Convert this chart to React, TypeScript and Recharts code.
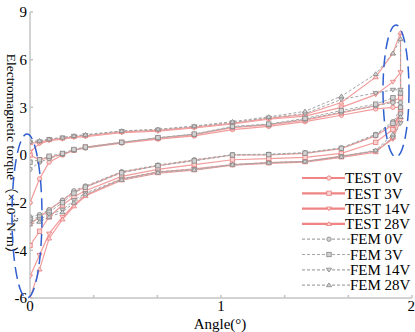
import React from "react";
import { LineChart, Line, XAxis, YAxis, Legend } from "recharts";

// sample angles (deg), shared by every branch
const ANGLES = [0, 0.05, 0.1, 0.17, 0.23, 0.29, 0.48, 0.67, 0.86, 1.06, 1.25, 1.44, 1.63, 1.81, 1.9, 1.94];

// torque (x10^-3 N·m), rising branch then falling branch
const TEST_0V_UP = [-2.0, -1.0, -0.3, 0.0, 0.3, 0.45, 0.75, 1.0, 1.2, 1.6, 1.8, 2.1, 2.5, 2.9, 3.0, 3.0];
const TEST_0V_DOWN = [-2.9, -2.6, -2.3, -1.9, -1.55, -1.35, -0.72, -0.45, -0.22, 0.0, 0.0, 0.1, 0.4, 1.2, 1.9, 2.6];
const TEST_3V_UP = [0.0, -0.2, -0.1, 0.05, 0.3, 0.5, 0.8, 1.05, 1.28, 1.72, 1.9, 2.2, 2.65, 3.1, 3.4, 3.6];
const TEST_3V_DOWN = [-3.8, -3.2, -2.6, -2.1, -1.75, -1.5, -0.9, -0.6, -0.4, -0.2, -0.15, -0.1, 0.1, 0.8, 1.6, 2.8];
const TEST_14V_UP = [0.2, 0.7, 0.9, 1.0, 1.1, 1.15, 1.4, 1.5, 1.7, 1.95, 2.25, 2.45, 3.0, 3.8, 4.6, 5.2];
const TEST_14V_DOWN = [-5.1, -4.2, -3.3, -2.6, -2.1, -1.7, -1.0, -0.72, -0.58, -0.4, -0.32, -0.27, -0.05, 0.25, 1.0, 2.2];
const TEST_28V_UP = [0.75, 0.8, 0.95, 1.05, 1.15, 1.2, 1.45, 1.55, 1.75, 2.0, 2.3, 2.55, 3.3, 4.9, 6.4, 7.7];
const TEST_28V_DOWN = [-6.0, -4.8, -3.5, -2.7, -2.15, -1.72, -1.06, -0.76, -0.64, -0.43, -0.35, -0.3, -0.1, 0.18, 1.1, 2.8];

const FEM_0V_UP = [-0.6, -0.3, -0.15, 0.05, 0.3, 0.45, 0.78, 1.08, 1.3, 1.76, 1.92, 2.25, 2.7, 3.1, 3.3, 3.3];
const FEM_0V_DOWN = [-2.6, -2.5, -2.3, -1.9, -1.5, -1.3, -0.7, -0.42, -0.2, 0.02, 0.05, 0.15, 0.45, 1.3, 2.1, 2.6];
const FEM_3V_UP = [-0.3, -0.2, -0.05, 0.1, 0.35, 0.5, 0.8, 1.1, 1.32, 1.8, 1.95, 2.3, 2.8, 3.2, 3.6, 3.9];
const FEM_3V_DOWN = [-2.7, -2.6, -2.4, -2.0, -1.6, -1.35, -0.75, -0.45, -0.25, 0.0, 0.02, 0.12, 0.42, 1.25, 2.0, 3.0];
const FEM_14V_UP = [0.8, 0.85, 1.0, 1.1, 1.2, 1.25, 1.5, 1.6, 1.8, 2.05, 2.35, 2.6, 3.5, 3.9, 4.1, 4.1];
const FEM_14V_DOWN = [-2.8, -2.7, -2.5, -2.3, -1.9, -1.6, -1.0, -0.7, -0.6, -0.42, -0.33, -0.28, -0.06, 0.25, 1.1, 2.0];
const FEM_28V_UP = [0.85, 0.9, 1.0, 1.1, 1.2, 1.28, 1.52, 1.62, 1.82, 2.1, 2.4, 2.75, 3.7, 5.1, 6.4, 7.3];
const FEM_28V_DOWN = [-2.9, -2.8, -2.6, -2.4, -2.0, -1.65, -1.04, -0.74, -0.62, -0.4, -0.32, -0.27, -0.07, 0.3, 1.3, 2.4];

const X_TICKS = [0, 1 / 3, 2 / 3, 1, 4 / 3, 5 / 3, 2];
const Y_TICKS = [-6, -4, -2, 0, 3, 6, 9];

// the original axis is split: 3 units per division above zero, 2 below
const toAxis = (v: number) => (v >= 0 ? v / 3 : v / 2);
const fromAxis = (t: number) => (t >= 0 ? t * 3 : t * 2);

const buildLoop = (up: number[], down: number[]) => [
  ...ANGLES.map((a, i) => ({ angle: a, torque: up[i] })),
  ...ANGLES.map((a, i) => ({ angle: a, torque: down[i] })).reverse(),
];

type Shape = "circle" | "square" | "down" | "up";

const SERIES: { name: string; test: boolean; shape: Shape; data: { angle: number; torque: number }[] }[] = [
  { name: "TEST 0V", test: true, shape: "circle", data: buildLoop(TEST_0V_UP, TEST_0V_DOWN) },
  { name: "TEST 3V", test: true, shape: "square", data: buildLoop(TEST_3V_UP, TEST_3V_DOWN) },
  { name: "TEST 14V", test: true, shape: "down", data: buildLoop(TEST_14V_UP, TEST_14V_DOWN) },
  { name: "TEST 28V", test: true, shape: "up", data: buildLoop(TEST_28V_UP, TEST_28V_DOWN) },
  { name: "FEM 0V", test: false, shape: "circle", data: buildLoop(FEM_0V_UP, FEM_0V_DOWN) },
  { name: "FEM 3V", test: false, shape: "square", data: buildLoop(FEM_3V_UP, FEM_3V_DOWN) },
  { name: "FEM 14V", test: false, shape: "down", data: buildLoop(FEM_14V_UP, FEM_14V_DOWN) },
  { name: "FEM 28V", test: false, shape: "up", data: buildLoop(FEM_28V_UP, FEM_28V_DOWN) },
];

const SERIF = '"Liberation Serif", "Times New Roman", "Noto Sans CJK SC", serif';
const TEST_LINE = "#f29c9c";
const FEM_LINE = "#a6a6a6";

function Marker({ cx, cy, shape, test }: { cx: number; cy: number; shape: Shape; test: boolean }) {
  const stroke = test ? "#e77c7c" : "#858585";
  const fill = test ? "#fbd3d3" : "#d2d2d2";
  const r = 2.2;
  if (shape === "circle") return <circle cx={cx} cy={cy} r={r} stroke={stroke} fill={fill} strokeWidth={0.8} />;
  if (shape === "square")
    return <rect x={cx - r} y={cy - r} width={2 * r} height={2 * r} stroke={stroke} fill={fill} strokeWidth={0.8} />;
  const pts =
    shape === "down"
      ? `${cx - r - 0.4},${cy - r + 0.6} ${cx + r + 0.4},${cy - r + 0.6} ${cx},${cy + r}`
      : `${cx - r - 0.4},${cy + r - 0.6} ${cx + r + 0.4},${cy + r - 0.6} ${cx},${cy - r}`;
  return <polygon points={pts} stroke={stroke} fill={fill} strokeWidth={0.8} />;
}

function LegendBox() {
  return (
    <svg width={115} height={125}>
      {SERIES.map((s, i) => {
        const y = 8 + i * 15.3;
        const end = s.test ? 45 : 50;
        return (
          <g key={s.name}>
            <line
              x1={2}
              x2={end}
              y1={y}
              y2={y}
              stroke={s.test ? "#f08484" : FEM_LINE}
              strokeWidth={s.test ? 2.2 : 1.2}
              strokeDasharray={s.test ? undefined : "3 2"}
            />
            <Marker cx={29} cy={y} shape={s.shape} test={s.test} />
            <text x={end} y={y} dy="0.35em" fontFamily={SERIF} fontSize={15} fill="#000">
              {s.name}
            </text>
          </g>
        );
      })}
    </svg>
  );
}

function YLabel() {
  return (
    <text
      x={12}
      y={157}
      transform="rotate(90 12 157)"
      textAnchor="middle"
      dy="0.35em"
      fontFamily={SERIF}
      fontSize={13.5}
      fill="#000"
    >
      Electromagnetic torque（×10
      <tspan dy={-5} fontSize={9}>
        -3
      </tspan>
      <tspan dy={5}>N·m）</tspan>
    </text>
  );
}

function XLabel() {
  return (
    <text x={220} y={324} dy="0.35em" textAnchor="middle" fontFamily={SERIF} fontSize={15} fill="#000">
      Angle(°)
    </text>
  );
}

export default function App() {
  const tickStyle = { fontFamily: SERIF, fontSize: 15, fill: "#000" };
  return (
    <div style={{ position: "absolute", left: 0, top: 0, width: 415, height: 332, background: "#fff" }}>
      <LineChart width={415} height={332} margin={{ top: 12, right: 3, bottom: 0, left: 0 }}>
        <XAxis
          dataKey="angle"
          type="number"
          domain={[0, 2]}
          ticks={X_TICKS}
          tickFormatter={(v: number) => (Math.abs(v - Math.round(v)) < 1e-6 ? String(Math.round(v)) : "")}
          height={34}
          tickSize={-3}
          tickMargin={5}
          stroke="#c4c4c4"
          strokeWidth={1.5}
          tick={tickStyle}
          label={<XLabel />}
          allowDataOverflow
        />
        <YAxis
          type="number"
          domain={[-3, 3]}
          ticks={Y_TICKS.map(toAxis)}
          tickFormatter={(t: number) => String(fromAxis(t))}
          width={30}
          tickSize={-3}
          tickMargin={6}
          stroke="#c4c4c4"
          strokeWidth={1.5}
          tick={tickStyle}
          label={<YLabel />}
          allowDataOverflow
        />
        {SERIES.map((s) => (
          <Line
            key={s.name}
            name={s.name}
            data={s.data}
            dataKey={(d: { torque: number }) => toAxis(d.torque)}
            type="linear"
            stroke={s.test ? TEST_LINE : FEM_LINE}
            strokeWidth={s.test ? 1.2 : 1}
            strokeDasharray={s.test ? undefined : "3 2"}
            dot={(p: any) => <Marker key={`${s.name}-${p.index}`} cx={p.cx} cy={p.cy} shape={s.shape} test={s.test} />}
            activeDot={false}
            isAnimationActive={false}
          />
        ))}
        <Legend
          layout="vertical"
          align="center"
          verticalAlign="middle"
          content={<LegendBox />}
          wrapperStyle={{ position: "absolute", left: 300, top: 170, width: 115, height: 125 }}
        />
      </LineChart>
      <svg width={415} height={332} style={{ position: "absolute", left: 0, top: 0, pointerEvents: "none" }}>
        <ellipse cx={27} cy={216} rx={15} ry={82} fill="none" stroke="#2f5fd0" strokeWidth={1.5} strokeDasharray="12 6" />
        <ellipse cx={396} cy={91} rx={13} ry={66} fill="none" stroke="#2f5fd0" strokeWidth={1.5} strokeDasharray="12 6" />
      </svg>
    </div>
  );
}
